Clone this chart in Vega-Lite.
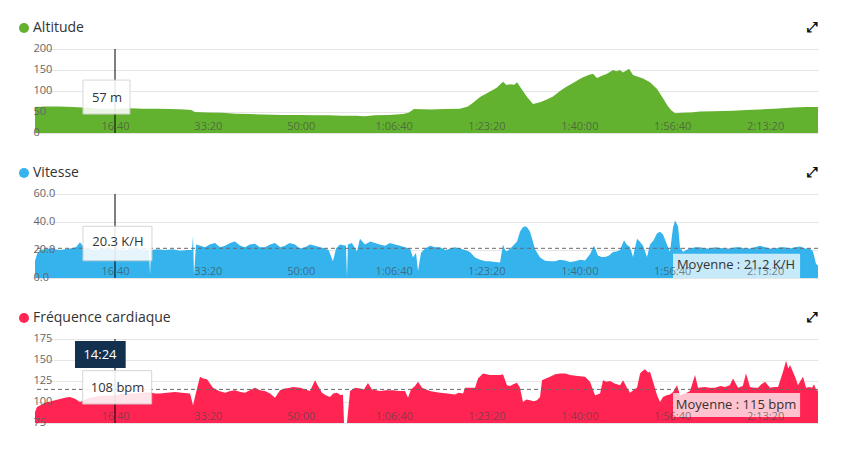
{
  "$schema": "https://vega.github.io/schema/vega-lite/v6.json",
  "background": "white",
  "padding": {"left": 17, "top": 21, "right": 5, "bottom": 5},
  "bounds": "flush",
  "spacing": 61,
  "resolve": {"scale": {"color": "independent"}, "legend": {"color": "independent"}},
  "config": {
    "font": "Open Sans",
    "view": {"stroke": null},
    "axis": {"domain": false, "ticks": false, "tickSize": 0, "labelOverlap": false, "labelFlush": false, "labelFont": "Open Sans", "labelFontSize": 11, "gridColor": "#e6e6e6", "gridWidth": 1},
    "legend": {"orient": "none", "legendX": -18, "legendY": -28, "symbolType": "circle", "symbolSize": 100, "symbolStrokeWidth": 0, "labelFontSize": 14, "labelFont": "Open Sans", "labelColor": "#333333", "labelOffset": 2, "padding": 0},
    "title": {"anchor": "end", "frame": "group", "fontSize": 14, "font": "DejaVu Sans", "color": "#111111", "offset": -14, "baseline": "middle", "fontWeight": "bold"}
  },
  "datasets": {
    "one": [{}],
    "alt": [
      {"t":138,"v":62},{"t":250,"v":63},{"t":400,"v":63},{"t":550,"v":62},{"t":700,"v":60},{"t":864,"v":57},{"t":1000,"v":58},{"t":1150,"v":59},{"t":1300,"v":58},{"t":1450,"v":58},{"t":1600,"v":57},{"t":1750,"v":56},{"t":1820,"v":55},{"t":1860,"v":50},{"t":2000,"v":49},{"t":2150,"v":48},{"t":2300,"v":46},{"t":2450,"v":45},{"t":2600,"v":44},{"t":2800,"v":43},{"t":2992,"v":43},{"t":3150,"v":42},{"t":3300,"v":42},{"t":3450,"v":41},{"t":3600,"v":41},{"t":3692,"v":40},{"t":3800,"v":42},{"t":3950,"v":43},{"t":4100,"v":45},{"t":4160,"v":48},{"t":4220,"v":57},{"t":4400,"v":56},{"t":4550,"v":57},{"t":4715,"v":58},{"t":4800,"v":63},{"t":4855,"v":72},{"t":4931,"v":86},{"t":5038,"v":99},{"t":5110,"v":108},{"t":5178,"v":122},{"t":5215,"v":114},{"t":5254,"v":116},{"t":5300,"v":115},{"t":5329,"v":121},{"t":5380,"v":104},{"t":5437,"v":86},{"t":5501,"v":69},{"t":5577,"v":73},{"t":5650,"v":80},{"t":5717,"v":87},{"t":5792,"v":100},{"t":5860,"v":110},{"t":5932,"v":119},{"t":6000,"v":128},{"t":6040,"v":133},{"t":6100,"v":138},{"t":6147,"v":141},{"t":6190,"v":131},{"t":6250,"v":137},{"t":6298,"v":141},{"t":6363,"v":150},{"t":6400,"v":147},{"t":6438,"v":150},{"t":6471,"v":144},{"t":6535,"v":153},{"t":6578,"v":138},{"t":6630,"v":134},{"t":6686,"v":130},{"t":6761,"v":121},{"t":6837,"v":105},{"t":6901,"v":83},{"t":6950,"v":65},{"t":6987,"v":55},{"t":7030,"v":47},{"t":7117,"v":48},{"t":7200,"v":49},{"t":7300,"v":51},{"t":7450,"v":52},{"t":7655,"v":53},{"t":7800,"v":55},{"t":7946,"v":56},{"t":8100,"v":58},{"t":8301,"v":61},{"t":8450,"v":62},{"t":8570,"v":62}
    ],
    "spd": [
      {"t":138,"v":12},{"t":160,"v":17},{"t":192,"v":20},{"t":300,"v":21},{"t":408,"v":20},{"t":515,"v":21},{"t":580,"v":22},{"t":623,"v":25.5},{"t":677,"v":21},{"t":785,"v":20},{"t":892,"v":21},{"t":1000,"v":20.3},{"t":1108,"v":20},{"t":1190,"v":21},{"t":1269,"v":20.5},{"t":1366,"v":20},{"t":1377,"v":2},{"t":1388,"v":20},{"t":1460,"v":20.5},{"t":1538,"v":20},{"t":1620,"v":20.5},{"t":1700,"v":19.5},{"t":1780,"v":20},{"t":1829,"v":20},{"t":1840,"v":30},{"t":1851,"v":2},{"t":1872,"v":24},{"t":1920,"v":23},{"t":1969,"v":22},{"t":2020,"v":24},{"t":2077,"v":25},{"t":2130,"v":22},{"t":2185,"v":23},{"t":2240,"v":25},{"t":2292,"v":26},{"t":2350,"v":23},{"t":2400,"v":22},{"t":2450,"v":24},{"t":2507,"v":24.5},{"t":2560,"v":22},{"t":2615,"v":22},{"t":2670,"v":24},{"t":2723,"v":25},{"t":2780,"v":22},{"t":2830,"v":23},{"t":2880,"v":25},{"t":2938,"v":24},{"t":2990,"v":21},{"t":3046,"v":22},{"t":3100,"v":24},{"t":3154,"v":23},{"t":3210,"v":22},{"t":3261,"v":21},{"t":3300,"v":20},{"t":3347,"v":12},{"t":3380,"v":21},{"t":3423,"v":24},{"t":3487,"v":23},{"t":3498,"v":0},{"t":3508,"v":24},{"t":3551,"v":25},{"t":3605,"v":19},{"t":3638,"v":28},{"t":3692,"v":24},{"t":3750,"v":26},{"t":3800,"v":25},{"t":3850,"v":24},{"t":3908,"v":23},{"t":3960,"v":25},{"t":4015,"v":24},{"t":4070,"v":23},{"t":4123,"v":22},{"t":4177,"v":21},{"t":4209,"v":14.7},{"t":4241,"v":18},{"t":4263,"v":5},{"t":4295,"v":18},{"t":4340,"v":21},{"t":4392,"v":23},{"t":4450,"v":22},{"t":4500,"v":22},{"t":4560,"v":20},{"t":4608,"v":21},{"t":4660,"v":22},{"t":4715,"v":21},{"t":4770,"v":20},{"t":4823,"v":18.5},{"t":4877,"v":14.7},{"t":4931,"v":13},{"t":4990,"v":12},{"t":5038,"v":12},{"t":5090,"v":11.5},{"t":5146,"v":11},{"t":5178,"v":24},{"t":5200,"v":20},{"t":5221,"v":19},{"t":5286,"v":23},{"t":5329,"v":26},{"t":5361,"v":33},{"t":5390,"v":36},{"t":5415,"v":37},{"t":5440,"v":36},{"t":5469,"v":33},{"t":5500,"v":26},{"t":5523,"v":20.5},{"t":5577,"v":14.7},{"t":5631,"v":12.3},{"t":5690,"v":12},{"t":5738,"v":12},{"t":5790,"v":13},{"t":5846,"v":12.5},{"t":5900,"v":11.5},{"t":5954,"v":12},{"t":6010,"v":13},{"t":6061,"v":12.5},{"t":6115,"v":17},{"t":6158,"v":23},{"t":6201,"v":16},{"t":6240,"v":15},{"t":6277,"v":15},{"t":6320,"v":16},{"t":6363,"v":18.6},{"t":6400,"v":19},{"t":6438,"v":20},{"t":6481,"v":27},{"t":6510,"v":24},{"t":6546,"v":22},{"t":6578,"v":15},{"t":6621,"v":28},{"t":6650,"v":26},{"t":6686,"v":23},{"t":6729,"v":15},{"t":6761,"v":24},{"t":6800,"v":27},{"t":6837,"v":32},{"t":6869,"v":33},{"t":6901,"v":31},{"t":6944,"v":24},{"t":6976,"v":18.6},{"t":7009,"v":36},{"t":7030,"v":41},{"t":7063,"v":37},{"t":7084,"v":22},{"t":7117,"v":18.6},{"t":7150,"v":20},{"t":7192,"v":21},{"t":7250,"v":22},{"t":7300,"v":22},{"t":7350,"v":21},{"t":7407,"v":21},{"t":7460,"v":22},{"t":7515,"v":21.5},{"t":7570,"v":21},{"t":7623,"v":21},{"t":7680,"v":22},{"t":7730,"v":22},{"t":7780,"v":21},{"t":7838,"v":21},{"t":7890,"v":22},{"t":7946,"v":23},{"t":8000,"v":22},{"t":8053,"v":21},{"t":8110,"v":21},{"t":8161,"v":22},{"t":8210,"v":22},{"t":8269,"v":21},{"t":8320,"v":22},{"t":8377,"v":22.5},{"t":8430,"v":21},{"t":8484,"v":21},{"t":8516,"v":19},{"t":8549,"v":10},{"t":8570,"v":9}
    ],
    "hr": [
      {"t":138,"v":88},{"t":160,"v":94},{"t":246,"v":99},{"t":354,"v":102},{"t":461,"v":105},{"t":515,"v":106},{"t":569,"v":104},{"t":623,"v":100},{"t":680,"v":103},{"t":730,"v":105},{"t":838,"v":107},{"t":1000,"v":108},{"t":1108,"v":110},{"t":1190,"v":110},{"t":1269,"v":111},{"t":1377,"v":111.5},{"t":1430,"v":110},{"t":1484,"v":110},{"t":1560,"v":111},{"t":1646,"v":112},{"t":1720,"v":111},{"t":1808,"v":110},{"t":1840,"v":96},{"t":1870,"v":110},{"t":1915,"v":130},{"t":1950,"v":128},{"t":1990,"v":127},{"t":2055,"v":117},{"t":2120,"v":113},{"t":2185,"v":111},{"t":2240,"v":113},{"t":2292,"v":114},{"t":2350,"v":112},{"t":2400,"v":111},{"t":2450,"v":114},{"t":2507,"v":117},{"t":2560,"v":114},{"t":2615,"v":113},{"t":2670,"v":110},{"t":2723,"v":105},{"t":2777,"v":114},{"t":2830,"v":116},{"t":2884,"v":117},{"t":2917,"v":118},{"t":2992,"v":117},{"t":3050,"v":115},{"t":3100,"v":113},{"t":3154,"v":126},{"t":3186,"v":119},{"t":3229,"v":111},{"t":3270,"v":108},{"t":3315,"v":106},{"t":3350,"v":110},{"t":3390,"v":111},{"t":3430,"v":108},{"t":3455,"v":109},{"t":3466,"v":75},{"t":3498,"v":75},{"t":3531,"v":113},{"t":3585,"v":117},{"t":3638,"v":116},{"t":3680,"v":115},{"t":3724,"v":122.6},{"t":3767,"v":115},{"t":3810,"v":114},{"t":3854,"v":113},{"t":3920,"v":114},{"t":3994,"v":114},{"t":4060,"v":113},{"t":4123,"v":113},{"t":4155,"v":105},{"t":4187,"v":115},{"t":4230,"v":119},{"t":4263,"v":124},{"t":4306,"v":117},{"t":4350,"v":115},{"t":4392,"v":113},{"t":4450,"v":112},{"t":4500,"v":111},{"t":4580,"v":110},{"t":4661,"v":109},{"t":4700,"v":111},{"t":4748,"v":110},{"t":4769,"v":117},{"t":4820,"v":117},{"t":4877,"v":117},{"t":4909,"v":128},{"t":4963,"v":134},{"t":5000,"v":133},{"t":5038,"v":132},{"t":5090,"v":132},{"t":5146,"v":132},{"t":5178,"v":133},{"t":5221,"v":120},{"t":5254,"v":119},{"t":5290,"v":121},{"t":5329,"v":123},{"t":5361,"v":117},{"t":5393,"v":100},{"t":5430,"v":103},{"t":5469,"v":102},{"t":5510,"v":101},{"t":5544,"v":102},{"t":5577,"v":106},{"t":5598,"v":126},{"t":5640,"v":128},{"t":5684,"v":130},{"t":5740,"v":133},{"t":5792,"v":134},{"t":5850,"v":134},{"t":5900,"v":132},{"t":5980,"v":131},{"t":6061,"v":130},{"t":6115,"v":124},{"t":6169,"v":108},{"t":6223,"v":110},{"t":6255,"v":126},{"t":6290,"v":124},{"t":6331,"v":125},{"t":6380,"v":122},{"t":6438,"v":120},{"t":6471,"v":126},{"t":6513,"v":117},{"t":6546,"v":111},{"t":6580,"v":114},{"t":6621,"v":117},{"t":6654,"v":134},{"t":6680,"v":137},{"t":6708,"v":139},{"t":6740,"v":135},{"t":6761,"v":136},{"t":6794,"v":124},{"t":6837,"v":108},{"t":6869,"v":100},{"t":6901,"v":106},{"t":6940,"v":108},{"t":6976,"v":109},{"t":7010,"v":112},{"t":7052,"v":120},{"t":7084,"v":108},{"t":7140,"v":110},{"t":7192,"v":113},{"t":7246,"v":132},{"t":7278,"v":117},{"t":7354,"v":118},{"t":7400,"v":117},{"t":7461,"v":117},{"t":7520,"v":119},{"t":7569,"v":118},{"t":7620,"v":120},{"t":7655,"v":128},{"t":7709,"v":117},{"t":7760,"v":119},{"t":7795,"v":134},{"t":7838,"v":118},{"t":7880,"v":117},{"t":7924,"v":117},{"t":7960,"v":121},{"t":8000,"v":124},{"t":8053,"v":117},{"t":8100,"v":118},{"t":8140,"v":118},{"t":8193,"v":136},{"t":8226,"v":149},{"t":8250,"v":140},{"t":8269,"v":144},{"t":8323,"v":130},{"t":8355,"v":120},{"t":8380,"v":125},{"t":8409,"v":130},{"t":8441,"v":117},{"t":8475,"v":118},{"t":8506,"v":117},{"t":8527,"v":121},{"t":8549,"v":115},{"t":8570,"v":113}
    ]
  },
  "vconcat": [
    {
      "width": 783, "height": 84,
      "title": {"text": "⤢"},
      "resolve": {"axis": {"y": "independent"}},
      "layer": [
        {
          "data": {"name": "alt"},
          "mark": {"type": "area", "clip": true, "opacity": 1},
          "encoding": {
            "x": {"field": "t", "type": "quantitative", "scale": {"domain": [138.5, 8570], "nice": false, "zero": false},
                  "axis": {"orient": "bottom", "values": [1000,2000,3000,4000,5000,6000,7000,8000], "labelExpr": "datum.value < 3600 ? (floor(datum.value/60) + ':' + (datum.value%60 < 10 ? '0' : '') + (datum.value%60)) : (floor(datum.value/3600) + ':' + (floor(datum.value%3600/60) < 10 ? '0' : '') + floor(datum.value%3600/60) + ':' + (datum.value%60 < 10 ? '0' : '') + (datum.value%60))", "title": null, "grid": false, "labelPadding": -13, "labelColor": "#444444", "labelOpacity": 0.65, "zindex": 1}},
            "y": {"field": "v", "type": "quantitative", "scale": {"domain": [0, 200], "nice": false, "zero": false},
                  "axis": {"orient": "left", "values": [0,50,100,150,200], "grid": true, "labels": false, "title": null, "zindex": 0}},
            "color": {"datum": "Altitude", "scale": {"range": ["#62B22F"]}, "legend": {"title": null}}
          }
        },
        {"data": {"name": "one"}, "mark": {"type": "rule", "color": "#000000", "strokeWidth": 1}, "encoding": {"x": {"datum": 1000}}},
        {
          "data": {"name": "one"},
          "mark": {"type": "rect", "fill": "#ffffff", "opacity": 0.88, "stroke": "#d2d2d2", "strokeWidth": 1},
          "encoding": {
            "x": {"datum": 655}, "x2": {"datum": 1161},
            "y": {"datum": 126, "axis": {"orient": "left", "values": [0,50,100,150,200], "grid": false, "labels": true, "title": null, "format": "d", "labelAlign": "left", "labelPadding": 2, "labelBaseline": "middle", "labelOffset": -1, "labelColor": "#666666", "zindex": 1}},
            "y2": {"datum": 45}
          }
        },
        {"data": {"name": "one"}, "mark": {"type": "text", "text": "57 m", "fontSize": 13, "color": "#333333"}, "encoding": {"x": {"datum": 914}, "y": {"datum": 84, "axis": null}}}
      ]
    },
    {
      "width": 783, "height": 84,
      "title": {"text": "⤢"},
      "resolve": {"axis": {"y": "independent"}},
      "layer": [
        {
          "data": {"name": "spd"},
          "mark": {"type": "area", "clip": true, "opacity": 1},
          "encoding": {
            "x": {"field": "t", "type": "quantitative", "scale": {"domain": [138.5, 8570], "nice": false, "zero": false},
                  "axis": {"orient": "bottom", "values": [1000,2000,3000,4000,5000,6000,7000,8000], "labelExpr": "datum.value < 3600 ? (floor(datum.value/60) + ':' + (datum.value%60 < 10 ? '0' : '') + (datum.value%60)) : (floor(datum.value/3600) + ':' + (floor(datum.value%3600/60) < 10 ? '0' : '') + floor(datum.value%3600/60) + ':' + (datum.value%60 < 10 ? '0' : '') + (datum.value%60))", "title": null, "grid": false, "labelPadding": -13, "labelColor": "#444444", "labelOpacity": 0.65, "zindex": 1}},
            "y": {"field": "v", "type": "quantitative", "scale": {"domain": [0, 60], "nice": false, "zero": false},
                  "axis": {"orient": "left", "values": [0,20,40,60], "grid": true, "labels": false, "title": null, "zindex": 0}},
            "color": {"datum": "Vitesse", "scale": {"range": ["#35B3EC"]}, "legend": {"title": null}}
          }
        },
        {"data": {"name": "one"}, "mark": {"type": "rule", "color": "#6a6a6a", "strokeWidth": 1, "strokeDash": [4, 3]}, "encoding": {"y": {"datum": 21.2, "axis": null}}},
        {"data": {"name": "one"}, "mark": {"type": "rule", "color": "#000000", "strokeWidth": 1}, "encoding": {"x": {"datum": 1000}}},
        {
          "data": {"name": "one"},
          "mark": {"type": "rect", "fill": "#ffffff", "opacity": 0.88, "stroke": "#d2d2d2", "strokeWidth": 1},
          "encoding": {
            "x": {"datum": 655}, "x2": {"datum": 1398},
            "y": {"datum": 36.9, "axis": {"orient": "left", "values": [0,20,40,60], "grid": false, "labels": true, "title": null, "format": ".1f", "labelAlign": "left", "labelPadding": 2, "labelBaseline": "middle", "labelOffset": -1, "labelColor": "#666666", "zindex": 1}},
            "y2": {"datum": 12.3}
          }
        },
        {"data": {"name": "one"}, "mark": {"type": "text", "text": "20.3 K/H", "fontSize": 13, "color": "#333333"}, "encoding": {"x": {"datum": 1032}, "y": {"datum": 25.5, "axis": null}}},
        {"data": {"name": "one"}, "mark": {"type": "rect", "fill": "#ffffff", "opacity": 0.72}, "encoding": {"x": {"datum": 7009}, "x2": {"datum": 8377}, "y": {"datum": 17.4, "axis": null}, "y2": {"datum": 0}}},
        {"data": {"name": "one"}, "mark": {"type": "text", "text": "Moyenne : 21.2 K/H", "fontSize": 13, "color": "#333333"}, "encoding": {"x": {"datum": 7687}, "y": {"datum": 9.4, "axis": null}}}
      ]
    },
    {
      "width": 783, "height": 84,
      "title": {"text": "⤢"},
      "resolve": {"axis": {"y": "independent"}},
      "layer": [
        {
          "data": {"name": "hr"},
          "mark": {"type": "area", "clip": true, "opacity": 1},
          "encoding": {
            "x": {"field": "t", "type": "quantitative", "scale": {"domain": [138.5, 8570], "nice": false, "zero": false},
                  "axis": {"orient": "bottom", "values": [1000,2000,3000,4000,5000,6000,7000,8000], "labelExpr": "datum.value < 3600 ? (floor(datum.value/60) + ':' + (datum.value%60 < 10 ? '0' : '') + (datum.value%60)) : (floor(datum.value/3600) + ':' + (floor(datum.value%3600/60) < 10 ? '0' : '') + floor(datum.value%3600/60) + ':' + (datum.value%60 < 10 ? '0' : '') + (datum.value%60))", "title": null, "grid": false, "labelPadding": -13, "labelColor": "#444444", "labelOpacity": 0.65, "zindex": 1}},
            "y": {"field": "v", "type": "quantitative", "scale": {"domain": [75, 175], "nice": false, "zero": false},
                  "axis": {"orient": "left", "values": [75,100,125,150,175], "grid": true, "labels": false, "title": null, "zindex": 0}},
            "color": {"datum": "Fréquence cardiaque", "scale": {"range": ["#FF2451"]}, "legend": {"title": null}}
          }
        },
        {"data": {"name": "one"}, "mark": {"type": "rule", "color": "#6a6a6a", "strokeWidth": 1, "strokeDash": [4, 3]}, "encoding": {"y": {"datum": 115, "axis": null}}},
        {"data": {"name": "one"}, "mark": {"type": "rule", "color": "#000000", "strokeWidth": 1}, "encoding": {"x": {"datum": 1000}}},
        {
          "data": {"name": "one"},
          "mark": {"type": "rect", "fill": "#ffffff", "opacity": 0.88, "stroke": "#d2d2d2", "strokeWidth": 1},
          "encoding": {
            "x": {"datum": 652}, "x2": {"datum": 1395},
            "y": {"datum": 137.3, "axis": {"orient": "left", "values": [75,100,125,150,175], "grid": false, "labels": true, "title": null, "format": "d", "labelAlign": "left", "labelPadding": 2, "labelBaseline": "middle", "labelOffset": -1, "labelColor": "#666666", "zindex": 1}},
            "y2": {"datum": 97.6}
          }
        },
        {"data": {"name": "one"}, "mark": {"type": "text", "text": "108 bpm", "fontSize": 13, "color": "#333333"}, "encoding": {"x": {"datum": 1027}, "y": {"datum": 116.3, "axis": null}}},
        {"data": {"name": "one"}, "mark": {"type": "rect", "fill": "#13314F", "opacity": 1}, "encoding": {"x": {"datum": 569}, "x2": {"datum": 1115}, "y": {"datum": 172.6, "axis": null}, "y2": {"datum": 140.5}}},
        {"data": {"name": "one"}, "mark": {"type": "text", "text": "14:24", "fontSize": 13, "color": "#ffffff"}, "encoding": {"x": {"datum": 838}, "y": {"datum": 156.5, "axis": null}}},
        {"data": {"name": "one"}, "mark": {"type": "rect", "fill": "#ffffff", "opacity": 0.72}, "encoding": {"x": {"datum": 7009}, "x2": {"datum": 8377}, "y": {"datum": 110.7, "axis": null}, "y2": {"datum": 82.1}}},
        {"data": {"name": "one"}, "mark": {"type": "text", "text": "Moyenne : 115 bpm", "fontSize": 13, "color": "#333333"}, "encoding": {"x": {"datum": 7687}, "y": {"datum": 96.4, "axis": null}}}
      ]
    }
  ]
}
